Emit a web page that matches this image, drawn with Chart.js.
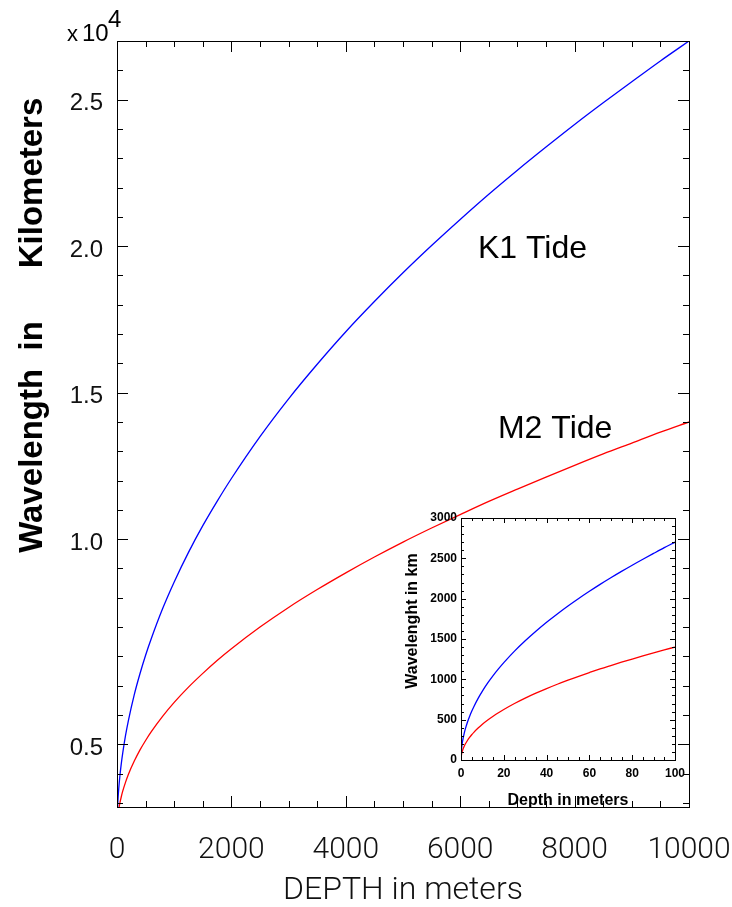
<!DOCTYPE html>
<html>
<head>
<meta charset="utf-8">
<script src="https://cdn.jsdelivr.net/npm/chart.js@4.4.1/dist/chart.umd.min.js"></script>
<style>
  html, body { margin: 0; padding: 0; background: #fff; }
  #wrap { position: relative; width: 732px; height: 907px; }
  #main { position: absolute; left: 0; top: 0; }
  #inset { position: absolute; left: 390px; top: 500px; }
</style>
</head>
<body>
<div id="wrap">
  <canvas id="main" width="732" height="907"></canvas>
  <canvas id="inset" width="300" height="320"></canvas>
</div>
<script>
// main plot: depth (m) vs wavelength (x10^4 km)
const depthMeters = [0, 5, 10, 20, 30, 50, 75, 100, 150, 200, 300, 400, 500, 600, 800, 1000, 1250, 1500, 1750, 2000,
  2500, 3000, 3500, 4000, 4500, 5000, 5500, 6000, 6500, 7000, 7500, 8000, 8500, 9000, 9500, 10000];
const k1Wavelength = [0, 0.060, 0.085, 0.121, 0.148, 0.191, 0.234, 0.270, 0.331, 0.382, 0.468, 0.540, 0.604, 0.661, 0.764, 0.854, 0.955, 1.046, 1.129, 1.207,
  1.350, 1.479, 1.597, 1.708, 1.811, 1.909, 2.002, 2.091, 2.177, 2.259, 2.338, 2.415, 2.489, 2.561, 2.632, 2.700];
const m2Wavelength = [0, 0.031, 0.044, 0.063, 0.077, 0.099, 0.121, 0.140, 0.171, 0.198, 0.242, 0.280, 0.313, 0.343, 0.396, 0.443, 0.495, 0.542, 0.586, 0.626,
  0.700, 0.767, 0.828, 0.885, 0.939, 0.990, 1.038, 1.084, 1.129, 1.171, 1.212, 1.252, 1.291, 1.328, 1.365, 1.400];

// the figure labels its lowest major tick "0.5" though it sits at 0.3
const yTickValues = [0.3, 1.0, 1.5, 2.0, 2.5];
const yTickLabels = ['0.5', '1.0', '1.5', '2.0', '2.5'];

const tideLabels = ['K1 Tide', 'M2 Tide'];

// inset: shallow water, depth (m) vs wavelength (km)
const insetDepth = [0, 0.25, 0.5, 1, 1.5, 2, 3, 4, 5, 6, 8, 10, 12.5, 15, 17.5, 20, 25, 30, 35, 40, 45, 50, 55, 60, 65, 70, 75, 80, 85, 90, 95, 100];
const insetK1 = [0, 135, 191, 270, 331, 382, 468, 540, 604, 661, 764, 854, 955, 1046, 1129, 1207, 1350, 1479, 1597, 1708, 1811, 1909, 2002, 2091, 2177, 2259, 2338, 2415, 2489, 2561, 2632, 2700];
const insetM2 = [0, 70, 99, 140, 171, 198, 242, 280, 313, 343, 396, 443, 495, 542, 586, 626, 700, 767, 828, 885, 939, 990, 1038, 1084, 1129, 1171, 1212, 1252, 1291, 1328, 1365, 1400];

const BLUE = '#0000ff';
const RED = '#ff0000';

function toPoints(xs, ys) {
  return xs.map((x, i) => ({ x: x, y: ys[i] }));
}

function lineSet(xs, ys, color) {
  return {
    data: toPoints(xs, ys),
    borderColor: color,
    borderWidth: 1.3,
    pointRadius: 0,
    fill: false,
    cubicInterpolationMode: 'monotone'
  };
}

// IDL style box with ticks pointing inward on all four sides
function drawBox(chart, spec) {
  const { ctx, chartArea: a, scales: { x, y } } = chart;
  ctx.save();
  ctx.strokeStyle = '#000';
  ctx.lineWidth = 1;
  ctx.beginPath();
  for (let v = spec.xMin; v <= spec.xMax + 1e-9; v += spec.xMinor) {
    const isMajor = Math.abs(v / spec.xMajor - Math.round(v / spec.xMajor)) < 1e-6;
    const len = isMajor ? spec.majorLen : spec.minorLen;
    const px = Math.round(x.getPixelForValue(v)) + 0.5;
    ctx.moveTo(px, a.bottom); ctx.lineTo(px, a.bottom - len);
    ctx.moveTo(px, a.top); ctx.lineTo(px, a.top + len);
  }
  for (let v = spec.yMin; v <= spec.yMax + 1e-9; v += spec.yMinor) {
    const isMajor = spec.yMajors.some(m => Math.abs(m - v) < 1e-6);
    const len = isMajor ? spec.majorLen : spec.minorLen;
    const py = Math.round(y.getPixelForValue(v)) + 0.5;
    ctx.moveTo(a.left, py); ctx.lineTo(a.left + len, py);
    ctx.moveTo(a.right, py); ctx.lineTo(a.right - len, py);
  }
  ctx.stroke();
  ctx.strokeRect(Math.round(a.left) + 0.5, Math.round(a.top) + 0.5,
    Math.round(a.right - a.left), Math.round(a.bottom - a.top));
  ctx.restore();
}

function rotatedText(ctx, text, x, y, font) {
  ctx.save();
  ctx.translate(x, y);
  ctx.rotate(-Math.PI / 2);
  ctx.font = font;
  ctx.textAlign = 'center';
  ctx.textBaseline = 'alphabetic';
  ctx.fillStyle = '#000';
  ctx.fillText(text, 0, 0);
  ctx.restore();
}

const mainDecor = {
  id: 'mainDecor',
  afterDraw(chart) {
    const { ctx, scales: { x, y } } = chart;
    drawBox(chart, {
      xMin: 0, xMax: 10000, xMinor: 500, xMajor: 2000,
      yMin: 0.1, yMax: 2.7, yMinor: 0.1, yMajors: yTickValues,
      majorLen: 11, minorLen: 6
    });

    ctx.save();
    ctx.fillStyle = '#000';
    ctx.textBaseline = 'alphabetic';
    ctx.textAlign = 'left';
    // exponent note
    ctx.font = '22px "Liberation Sans", Arial, sans-serif';
    ctx.fillText('x', 67, 41);
    ctx.font = '24px "Liberation Sans", Arial, sans-serif';
    ctx.fillText('10', 82, 41);
    ctx.fillText('4', 108, 27);

    // curve labels
    ctx.font = '32px "Liberation Sans", Arial, sans-serif';
    ctx.fillText(tideLabels[0], x.getPixelForValue(6310), y.getPixelForValue(1.96));
    ctx.fillText(tideLabels[1], x.getPixelForValue(6660), y.getPixelForValue(1.346));
    ctx.restore();

    // y title, split into two pieces as in the figure
    const tf = 'bold 33px "Liberation Sans", Arial, sans-serif';
    rotatedText(ctx, 'Wavelength  in', 42, 437, tf);
    rotatedText(ctx, 'Kilometers', 42, 183, tf);
  }
};

const insetDecor = {
  id: 'insetDecor',
  afterDraw(chart) {
    drawBox(chart, {
      xMin: 0, xMax: 100, xMinor: 5, xMajor: 20,
      yMin: 0, yMax: 3000, yMinor: 100, yMajors: [0, 500, 1000, 1500, 2000, 2500, 3000],
      majorLen: 5, minorLen: 3
    });
    rotatedText(chart.ctx, 'Wavelenght in km', 27, 121, 'bold 16px "Liberation Sans", Arial, sans-serif');
  }
};

const idlFont = { family: 'Roboto, "DejaVu Sans", sans-serif', size: 30, weight: 300 };

new Chart(document.getElementById('main'), {
  type: 'line',
  data: {
    datasets: [
      lineSet(depthMeters, k1Wavelength, BLUE),
      lineSet(depthMeters, m2Wavelength, RED)
    ]
  },
  options: {
    responsive: false,
    animation: false,
    events: [],
    layout: { padding: { left: 0, top: 41, right: 43, bottom: 0 } },
    scales: {
      x: {
        type: 'linear',
        min: 0, max: 10000,
        ticks: {
          stepSize: 2000, callback: v => String(v),
          font: idlFont, color: '#111', padding: 25, maxRotation: 0, autoSkip: false
        },
        grid: { display: false, drawTicks: false },
        border: { display: false },
        title: {
          display: true, text: 'DEPTH in meters', color: '#111',
          font: { family: 'Roboto, "DejaVu Sans", sans-serif', size: 32, weight: 300, lineHeight: 1 },
          padding: { top: 0, bottom: 0 }
        },
        afterFit: s => { s.height = 100; s.paddingLeft = 0; s.paddingRight = 0; }
      },
      y: {
        type: 'linear',
        min: 0.086, max: 2.70,
        afterBuildTicks: s => { s.ticks = yTickValues.map(v => ({ value: v })); },
        ticks: {
          callback: (v, i) => yTickLabels[i],
          font: { family: '"Liberation Sans", Arial, sans-serif', size: 24 },
          color: '#111', padding: 14, labelOffset: 4
        },
        grid: { display: false, drawTicks: false },
        border: { display: false },
        afterFit: s => { s.width = 117; s.paddingTop = 0; s.paddingBottom = 0; }
      }
    },
    plugins: { legend: { display: false }, tooltip: { enabled: false } }
  },
  plugins: [mainDecor]
});

const insetFont = { family: '"Liberation Sans", Arial, sans-serif', size: 12, weight: 'bold' };

new Chart(document.getElementById('inset'), {
  type: 'line',
  data: {
    datasets: [
      lineSet(insetDepth, insetK1, BLUE),
      lineSet(insetDepth, insetM2, RED)
    ]
  },
  options: {
    responsive: false,
    animation: false,
    events: [],
    layout: { padding: { left: 0, top: 18, right: 15, bottom: 0 } },
    scales: {
      x: {
        type: 'linear',
        min: 0, max: 100,
        ticks: {
          stepSize: 20, callback: v => String(v),
          font: insetFont, color: '#000', padding: 6, maxRotation: 0, autoSkip: false
        },
        grid: { display: false, drawTicks: false },
        border: { display: false },
        title: {
          display: true, text: 'Depth in meters', color: '#000',
          font: { family: '"Liberation Sans", Arial, sans-serif', size: 16, weight: 'bold' },
          padding: { top: 0, bottom: 10 }
        },
        afterFit: s => { s.height = 60; s.paddingLeft = 0; s.paddingRight = 0; }
      },
      y: {
        type: 'linear',
        min: 0, max: 3000,
        ticks: { stepSize: 500, callback: v => String(v), font: insetFont, color: '#000', padding: 4 },
        grid: { display: false, drawTicks: false },
        border: { display: false },
        afterFit: s => { s.width = 71; s.paddingTop = 0; s.paddingBottom = 0; }
      }
    },
    plugins: { legend: { display: false }, tooltip: { enabled: false } }
  },
  plugins: [insetDecor]
});
</script>
</body>
</html>
